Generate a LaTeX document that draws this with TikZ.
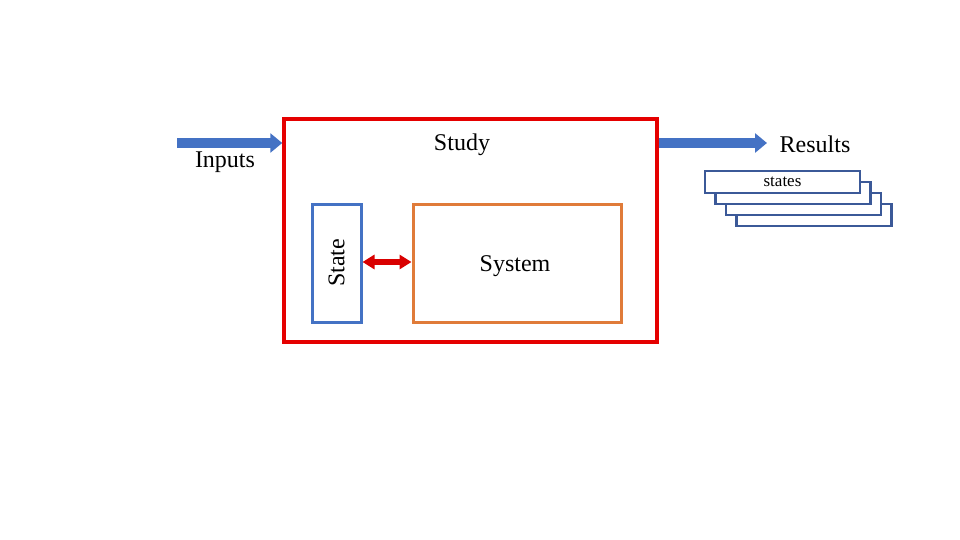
\documentclass[tikz,border=0pt]{standalone}
\usepackage{fontspec}
\setmainfont{Liberation Serif}
\usetikzlibrary{arrows.meta}
\definecolor{accblue}{HTML}{4472C4}
\definecolor{accorange}{HTML}{E07B39}
\definecolor{stkblue}{HTML}{3B5998}
\tikzset{
  figtext/.style={draw=none, fill=none, black, font=\fontsize{24}{28}\selectfont},
  figlines/.style={line width=3pt},
  studybox/.style={draw=red!90!black, line width=3.5pt, minimum width=373pt, minimum height=223pt, inner sep=0pt},
  statebox/.style={figlines, draw=accblue, minimum width=49pt, minimum height=118pt, inner sep=0pt},
  sysbox/.style={figlines, draw=accorange, minimum width=208pt, minimum height=118pt, inner sep=0pt},
  blockarrow/.style={draw=accblue, line width=10pt, -{Triangle[length=12pt, width=19pt]}},
  linkarrow/.style={line width=6pt, red!85!black, {Triangle[length=12pt, width=14pt]}-{Triangle[length=12pt, width=14pt]}},
  stk/.style={draw=stkblue, line width=2.2pt, fill=white, minimum width=155pt, minimum height=22pt, inner sep=0pt, font=\fontsize{17}{20}\selectfont},
}
\begin{document}
\begin{tikzpicture}[x=1pt, y=-1pt]
\useasboundingbox (0,0) rectangle (960,540);
% main boxes
\node[studybox] (study) at (470.5,230.5) {};
\node[figtext] (studylbl) at (462,145) {Study};
\node[statebox] (state) at (336.5,263) {};
\node[figtext, rotate=90] (statelbl) at (state.center) {State};
\node[sysbox] (system) at (517,263) {};
\node[figtext] (syslbl) at (515,266) {System};
\draw[linkarrow] (state.east |- 0,262) -- (system.west |- 0,262);
% inputs and results
\coordinate (inp) at (177,143);
\draw[blockarrow] (inp) -- (inp -| study.west);
\node[figtext] (inplbl) at (225,162) {Inputs};
\coordinate (outp) at (study.east |- inp);
\coordinate (outend) at (767,143);
\draw[blockarrow] (outp) -- (outend);
\node[figtext] (reslbl) at (815,144) {Results};
% stack of states
\foreach \i/\dx/\dy in {4/31.5/33, 3/21/22, 2/10.5/11}
  \node[stk] (stk\i) at (782.5+\dx,182+\dy) {};
\node[stk] (stk1) at (782.5,182) {states};
\end{tikzpicture}
\end{document}
